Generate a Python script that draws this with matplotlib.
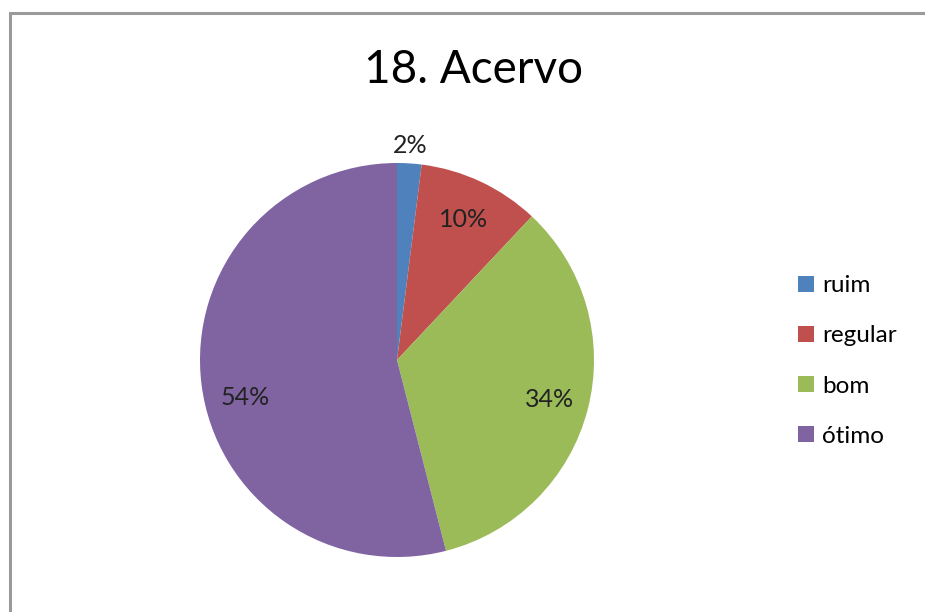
import matplotlib.pyplot as plt
import numpy as np
from matplotlib.patches import Rectangle

# data
categories = ["ruim", "regular", "bom", "ótimo"]
percents = [2, 10, 34, 54]
colors = ["#4F81BD", "#C0504D", "#9BBB59", "#8064A2"]
title = "18. Acervo"

plt.rcParams['font.family'] = ['Lato', 'DejaVu Sans']

W, H = 925, 612
fig = plt.figure(figsize=(W / 100, H / 100), dpi=100)

# gray frame (right/bottom cut off like the source)
fig.patches.append(Rectangle((10 / W, -0.1), 1.2, (H - 13) / H + 0.1,
                             transform=fig.transFigure, fill=False,
                             edgecolor="#9a9a9a", linewidth=2.2))

cx, cy, r = 397, 360, 197
ax = fig.add_axes([(cx - r) / W, (H - cy - r) / H, 2 * r / W, 2 * r / H])
wedges, _ = ax.pie(percents, colors=colors, startangle=90, counterclock=False,
                   radius=1, wedgeprops=dict(linewidth=0))
ax.set_xlim(-1, 1)
ax.set_ylim(-1, 1)
ax.set_aspect("equal")
ax.axis("off")

# percentage labels
dists = [1.09, 0.79, 0.8, 0.79]
for w, p, d in zip(wedges, percents, dists):
    ang = np.deg2rad((w.theta1 + w.theta2) / 2)
    x, y = d * np.cos(ang), d * np.sin(ang)
    if p == 54:
        x, y = -0.77, -0.19
    ax.text(x, y, f"{p}%", ha="center", va="center", fontsize=18, color="#222222",
            clip_on=False)

fig.text(473 / W, 1 - 70 / H, title, ha="center", va="center", fontsize=33)

fig.legend(wedges, categories, loc="center left",
           bbox_to_anchor=(776 / W, 1 - 361 / H), frameon=False,
           fontsize=17.5, handlelength=0.65, handleheight=0.65,
           handletextpad=0.35, labelspacing=1.2)

fig.savefig("out.png", dpi=100)
